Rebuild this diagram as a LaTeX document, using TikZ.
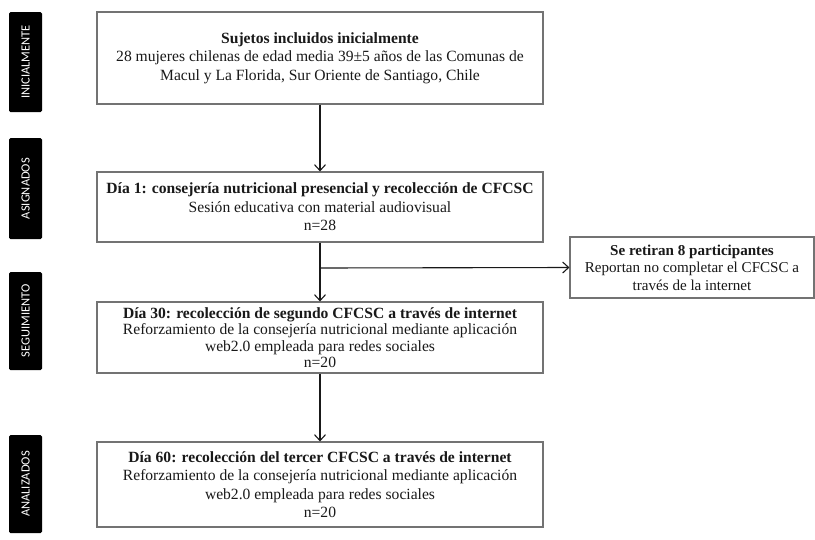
\documentclass[tikz,border=0pt]{standalone}
\usepackage{fontspec}
\setmainfont{Liberation Serif}
\newfontfamily\labfont{Carlito}
\usetikzlibrary{arrows.meta}
\definecolor{boxline}{RGB}{115,115,115}
\definecolor{txt}{RGB}{25,25,25}
\begin{document}
\begin{tikzpicture}[x=1pt,y=-1pt,
  mainbox/.style={draw=boxline,line width=1.1pt,fill=white,minimum width=446pt,align=center,
    font=\fontsize{15.6}{18.5}\selectfont,text=txt,inner sep=0pt},
  sidebox/.style={draw=boxline,line width=1.1pt,fill=white,minimum width=244pt,minimum height=61pt,
    align=center,font=\fontsize{15.1}{17.5}\selectfont,text=txt,inner sep=0pt},
  stage/.style={fill=black,rounded corners=1.5pt,minimum height=33pt,text=white,
    font=\labfont\fontsize{12.5}{14}\selectfont,rotate=90,inner sep=0pt},
  conn/.style={line width=1.1pt,draw=txt,-{Straight Barb[length=6pt,width=11pt]}}]
\useasboundingbox (0,0) rectangle (815,539);

\node[stage,minimum width=100pt] (s1) at (25.5,62) {INICIALMENTE};
\node[stage,minimum width=101pt] (s2) at (25.5,188.5) {ASIGNADOS};
\node[stage,minimum width=98pt] (s3) at (25.5,321) {SEGUIMIENTO};
\node[stage,minimum width=98pt] (s4) at (25.5,484) {ANALIZADOS};

\node[mainbox,minimum height=92pt] (b1) at (320,58)
  {\textbf{Sujetos incluidos inicialmente}\\
   28 mujeres chilenas de edad media 39±5 años de las Comunas de\\
   Macul y La Florida, Sur Oriente de Santiago, Chile};
\node[mainbox,minimum height=70pt] (b2) at (320,207)
  {\textbf{Día 1: consejería nutricional presencial y recolección de CFCSC}\\
   Sesión educativa con material audiovisual\\
   n=28};
\node[mainbox,minimum height=71pt,font=\fontsize{15.6}{16.5}\selectfont] (b3) at (320,337.5)
  {\textbf{Día 30: recolección de segundo CFCSC a través de internet}\\
   Reforzamiento de la consejería nutricional mediante aplicación\\
   web2.0 empleada para redes sociales\\
   n=20};
\node[mainbox,minimum height=85pt] (b4) at (320,484.5)
  {\textbf{Día 60: recolección del tercer CFCSC a través de internet}\\
   Reforzamiento de la consejería nutricional mediante aplicación\\
   web2.0 empleada para redes sociales\\
   n=20};
\node[sidebox] (r) at (692,267.5)
  {\textbf{Se retiran 8 participantes}\\
   Reportan no completar el CFCSC a\\
   través de la internet};

\coordinate (br) at (320,268);
\draw[conn] (b1) -- (b2);
\draw[conn] (b2) -- (b3);
\draw[conn] (br) -- (r.west);
\draw[conn] (b3) -- (b4);
\end{tikzpicture}
\end{document}
